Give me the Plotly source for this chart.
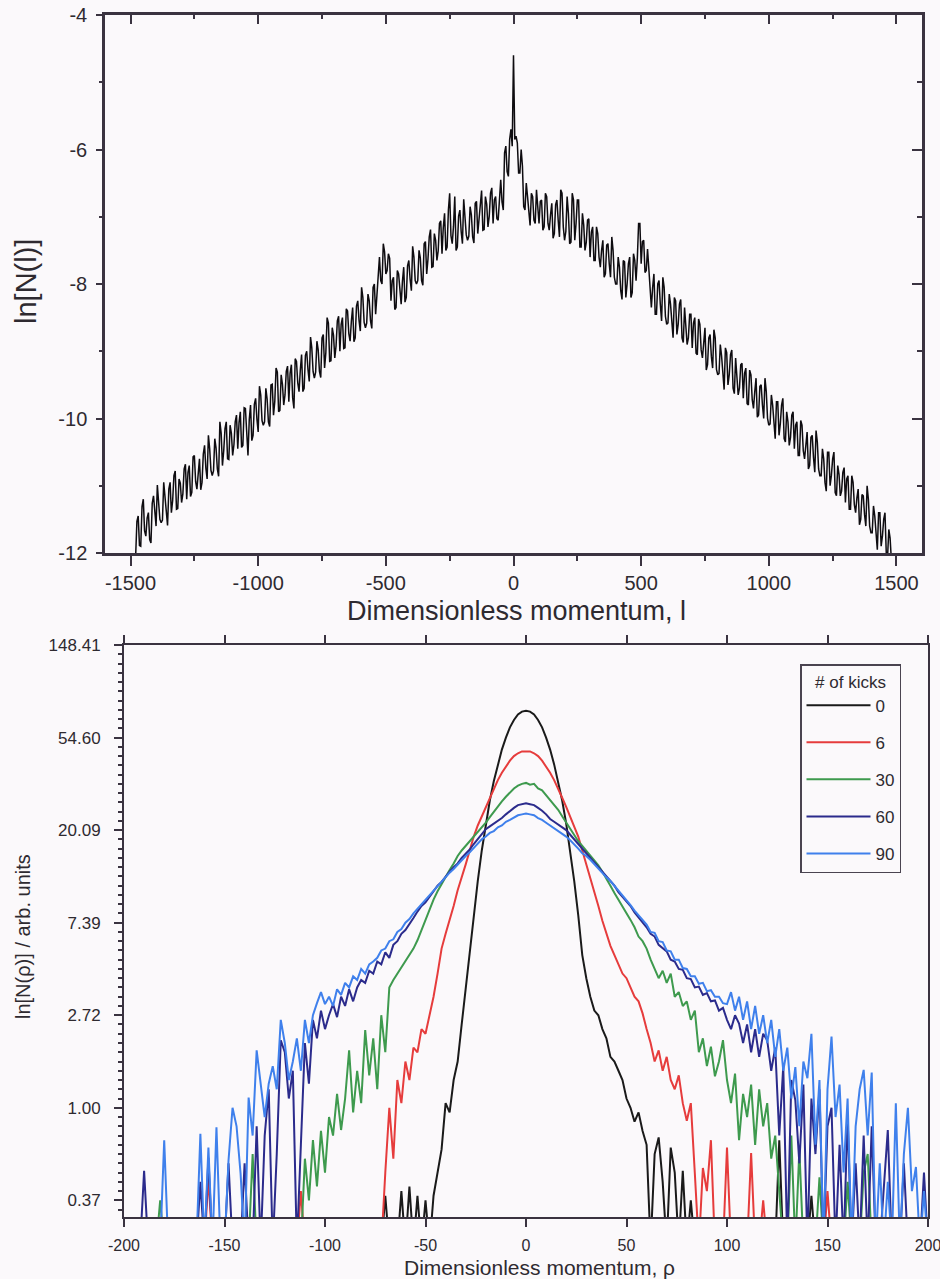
import plotly.graph_objects as go

# ---------------- top panel data: ln[N(l)] vs l (step 5) ----------------
top_l = list(range(-1480, 1481, 5))
# values at l = -1480, -1470, ..., -10
top_left = [
    -12.05, -11.45, -11.90, -11.20, -11.75, -11.40, -11.85, -11.15, -11.60, -11.20,
    -11.55, -10.95, -11.45, -11.05, -11.40, -10.85, -11.35, -10.90, -11.25, -10.75,
    -11.20, -10.70, -11.10, -10.55, -11.05, -10.60, -10.95, -10.40, -10.90, -10.45,
    -10.85, -10.30, -10.75, -10.05, -10.70, -10.15, -10.60, -10.10, -10.55, -10.05,
    -10.45, -9.90, -10.40, -9.85, -10.55, -9.80, -10.25, -9.70, -10.20, -9.65,
    -10.10, -9.55, -10.05, -9.50, -9.95, -9.25, -9.90, -9.35, -9.80, -9.30,
    -9.75, -9.20, -9.85, -9.15, -9.60, -9.05, -9.55, -9.00, -9.45, -8.95,
    -9.40, -8.85, -9.30, -8.80, -9.25, -8.50, -9.15, -8.65, -9.10, -8.55,
    -9.00, -8.50, -8.95, -8.40, -8.85, -8.35, -8.80, -8.25, -8.70, -8.20,
    -8.65, -8.15, -8.55, -8.05, -8.45, -7.80, -7.95, -7.40, -7.85, -7.55,
    -8.25, -7.90, -8.35, -7.85, -8.30, -7.75, -8.20, -7.65, -8.10, -7.60,
    -8.00, -7.50, -7.95, -7.40, -7.85, -7.30, -7.75, -7.25, -7.65, -7.10,
    -7.55, -6.95, -7.45, -6.65, -7.40, -6.70, -7.45, -6.90, -7.40, -6.95,
    -7.35, -6.85, -7.30, -6.80, -7.25, -6.75, -7.20, -6.70, -7.15, -6.65,
    -7.10, -6.70, -7.05, -6.45, -6.90, -5.95, -6.40, -5.70,
]
# values at l = -1475, -1465, ..., -5
top_mid_left = [
    -11.53, -11.89, -11.31, -11.67, -11.48, -11.80, -11.26, -11.47, -10.99, -11.50,
    -11.51, -11.18, -11.59, -10.95, -11.22, -10.78, -11.34, -10.96, -11.12, -10.68,
    -10.80, -11.16, -10.57, -10.94, -10.75, -11.06, -10.53, -10.74, -10.25, -10.77,
    -10.78, -10.44, -10.86, -10.22, -10.48, -10.05, -10.61, -10.22, -10.39, -9.95,
    -10.06, -10.43, -9.84, -10.20, -10.02, -10.33, -9.79, -10.01, -9.52, -10.03,
    -10.05, -9.71, -10.12, -9.49, -9.75, -9.31, -9.88, -9.49, -9.65, -9.22,
    -9.33, -9.69, -9.11, -9.47, -9.28, -9.60, -9.06, -9.27, -8.79, -9.30,
    -9.31, -8.98, -9.39, -8.75, -9.02, -8.58, -9.14, -8.76, -8.92, -8.48,
    -8.60, -8.96, -8.37, -8.74, -8.55, -8.86, -8.33, -8.54, -8.05, -8.57,
    -8.58, -8.25, -8.66, -8.00, -8.17, -7.60, -8.00, -7.52, -7.80, -7.62,
    -7.95, -8.38, -7.80, -8.16, -7.96, -8.27, -7.73, -7.93, -7.44, -7.95,
    -7.95, -7.61, -8.02, -7.37, -7.63, -7.19, -7.74, -7.35, -7.51, -7.06,
    -7.16, -7.50, -6.90, -7.28, -7.14, -7.50, -6.99, -7.22, -6.74, -7.27,
    -7.29, -6.97, -7.39, -6.77, -7.04, -6.61, -7.19, -6.81, -6.99, -6.57,
    -6.75, -7.03, -6.63, -6.78, -6.05, -6.33, -5.85, -5.95,
]
top_center = [-4.60]  # l = 0
# values at l = 5, 15, ..., 1475
top_mid_right = [
    -5.85, -5.90, -6.35, -6.25, -6.90, -6.70, -7.13, -6.70, -7.10, -6.82,
    -6.77, -7.20, -6.65, -7.10, -6.97, -7.32, -6.82, -7.05, -6.60, -7.15,
    -7.22, -6.95, -7.38, -6.75, -7.10, -6.75, -7.45, -7.12, -7.38, -7.03,
    -7.23, -7.65, -7.15, -7.60, -7.50, -7.90, -7.42, -7.70, -7.30, -7.90,
    -8.00, -7.75, -8.23, -7.67, -8.00, -7.60, -8.13, -7.65, -7.62, -7.10,
    -7.37, -7.83, -7.48, -8.15, -8.05, -8.45, -8.00, -8.30, -7.90, -8.48,
    -8.58, -8.30, -8.80, -8.25, -8.60, -8.23, -8.87, -8.57, -8.80, -8.45,
    -8.58, -9.03, -8.52, -8.98, -8.88, -9.28, -8.80, -9.08, -8.68, -9.27,
    -9.33, -9.07, -9.57, -9.02, -9.35, -8.98, -9.63, -9.33, -9.55, -9.18,
    -9.33, -9.78, -9.28, -9.72, -9.60, -9.98, -9.52, -9.80, -9.40, -10.00,
    -10.08, -9.80, -10.30, -9.75, -10.08, -9.70, -10.35, -10.05, -10.28, -9.90,
    -10.10, -10.55, -10.03, -10.48, -10.35, -10.75, -10.28, -10.58, -10.18, -10.75,
    -10.85, -10.60, -11.08, -10.50, -10.85, -10.50, -11.15, -10.83, -11.08, -10.73,
    -10.90, -11.35, -10.85, -11.28, -11.18, -11.58, -11.13, -11.43, -11.00, -11.60,
    -11.70, -11.45, -11.95, -11.40, -11.75, -11.40, -12.07, -11.78,
]
# values at l = 10, 20, ..., 1480
top_right = [
    -5.80, -6.35, -6.00, -6.85, -6.50, -7.00, -6.65, -7.05, -6.60, -7.10,
    -6.75, -7.15, -6.70, -7.20, -6.80, -7.25, -6.75, -7.30, -6.65, -7.35,
    -6.70, -7.40, -6.65, -7.35, -6.75, -7.45, -6.95, -7.50, -7.05, -7.60,
    -7.15, -7.65, -7.25, -7.75, -7.35, -7.85, -7.40, -7.90, -7.50, -8.00,
    -7.60, -8.10, -7.65, -8.20, -7.70, -8.20, -7.55, -7.95, -7.10, -7.70,
    -7.35, -7.80, -7.75, -8.35, -7.85, -8.45, -7.95, -8.55, -8.05, -8.60,
    -8.15, -8.65, -8.20, -8.75, -8.30, -8.80, -8.35, -8.90, -8.45, -8.95,
    -8.50, -9.05, -8.60, -9.10, -8.65, -9.20, -8.75, -9.25, -8.80, -9.35,
    -8.90, -9.40, -8.95, -9.50, -9.05, -9.55, -9.10, -9.65, -9.20, -9.70,
    -9.25, -9.80, -9.35, -9.85, -9.40, -9.95, -9.50, -10.00, -9.60, -10.10,
    -9.65, -10.15, -9.75, -10.25, -9.80, -10.30, -9.90, -10.40, -9.95, -10.45,
    -10.05, -10.55, -10.10, -10.60, -10.20, -10.70, -10.25, -10.80, -10.35, -10.85,
    -10.45, -10.95, -10.50, -11.00, -10.60, -11.10, -10.70, -11.15, -10.80, -11.25,
    -10.85, -11.35, -10.95, -11.40, -11.05, -11.50, -11.15, -11.60, -11.20, -11.70,
    -11.30, -11.80, -11.40, -11.90, -11.50, -12.00, -11.65, -12.10,
]
top_y = []
for a, b in zip(top_left, top_mid_left):
    top_y += [a, b]
top_y += top_center
for b, a in zip(top_mid_right, top_right):
    top_y += [b, a]

top_xtick_vals = [-1500, -1000, -500, 0, 500, 1000, 1500]
top_xtick_text = ["-1500", "-1000", "-500", "0", "500", "1000", "1500"]
top_ytick_vals = [-12, -10, -8, -6, -4]
top_ytick_text = ["-12", "-10", "-8", "-6", "-4"]

# ---------------- bottom panel data: ln[N(rho)] vs rho (step 2) ----------------
F = -1.5  # empty bins (below the axis floor)
rho = list(range(-200, 201, 2))

kicks_0 = [
    F, F, F, F, F, F, F, F, F, F,
    F, F, F, F, F, F, F, F, F, F,
    F, F, F, F, F, F, F, F, F, F,
    F, F, F, F, F, F, F, F, F, F,
    F, F, F, F, F, F, F, F, F, F,
    F, F, F, F, F, F, F, F, F, F,
    F, F, F, F, F, -0.95, F, F, F, -0.90,
    F, -0.85, F, -0.95, F, -1.00, F, -0.95, -0.70, -0.45,
    0.05, -0.05, 0.30, 0.50, 0.90, 1.30, 1.65, 2.08, 2.45, 2.78,
    3.07, 3.32, 3.53, 3.71, 3.87, 4.00, 4.11, 4.19, 4.25, 4.28,
    4.29, 4.28, 4.25, 4.19, 4.11, 4.00, 3.87, 3.71, 3.53, 3.32,
    3.07, 2.78, 2.45, 2.08, 1.65, 1.40, 1.20, 1.05, 1.00, 0.85,
    0.75, 0.55, 0.50, 0.40, 0.30, 0.10, 0.00, -0.15, -0.05, -0.25,
    -0.40, F, -0.50, -0.32, -0.80, F, -0.43, -0.70, F, -0.68,
    F, -1.00, F, F, F, F, F, F, F, F,
    F, F, F, F, F, F, F, F, F, F,
    F, F, F, -0.35, F, F, F, F, F, F,
    F, -0.95, F, F, F, F, F, F, F, F,
    F, F, F, F, F, F, F, F, F, F,
    F, F, F, F, F, F, F, F, F, F,
    F,
]

kicks_6 = [
    F, F, F, F, F, F, F, F, F, F,
    F, F, F, F, F, F, F, F, F, F,
    F, -0.75, F, F, F, F, F, F, F, F,
    F, F, F, F, F, F, F, F, F, F,
    F, F, F, F, -0.90, F, F, F, F, F,
    F, F, F, F, F, F, F, F, F, F,
    F, F, F, F, F, -0.70, 0.00, -0.55, 0.30, 0.05,
    0.50, 0.30, 0.65, 0.60, 0.85, 0.80, 1.00, 1.20, 1.45, 1.72,
    1.88, 2.02, 2.18, 2.35, 2.48, 2.63, 2.78, 2.93, 3.05, 3.15,
    3.25, 3.35, 3.45, 3.54, 3.62, 3.69, 3.75, 3.80, 3.83, 3.85,
    3.85, 3.85, 3.83, 3.80, 3.75, 3.69, 3.62, 3.54, 3.45, 3.35,
    3.25, 3.15, 3.05, 2.93, 2.78, 2.63, 2.48, 2.35, 2.18, 2.02,
    1.88, 1.75, 1.65, 1.55, 1.45, 1.40, 1.30, 1.20, 1.15, 1.02,
    0.85, 0.70, 0.50, 0.62, 0.40, 0.55, 0.30, 0.20, 0.35, 0.05,
    -0.14, 0.05, -0.71, F, -0.65, -0.90, -0.35, F, F, F,
    -0.43, F, F, F, F, F, -0.49, F, F, -1.00,
    F, F, F, F, F, F, F, F, F, F,
    F, F, F, F, F, -0.90, F, F, F, F,
    F, F, F, F, F, F, F, F, F, F,
    F, F, F, F, F, F, F, F, F, F,
    F,
]

kicks_30 = [
    F, F, F, F, F, F, F, F, F, -1.00,
    F, F, F, F, F, F, F, F, F, F,
    F, F, F, F, F, F, F, F, F, F,
    F, F, -0.50, F, F, F, F, F, F, F,
    F, F, F, F, F, -0.55, -1.00, -0.35, -0.85, -0.25,
    -0.70, -0.10, -0.30, 0.15, -0.24, 0.10, 0.62, -0.05, 0.40, 0.05,
    0.84, 0.35, 0.75, 0.20, 1.00, 0.60, 1.30, 1.38, 1.45, 1.52,
    1.58, 1.65, 1.72, 1.81, 1.92, 2.04, 2.15, 2.25, 2.34, 2.42,
    2.50, 2.57, 2.64, 2.72, 2.78, 2.83, 2.88, 2.93, 2.97, 3.02,
    3.08, 3.14, 3.20, 3.26, 3.31, 3.36, 3.41, 3.45, 3.48, 3.50,
    3.51, 3.49, 3.50, 3.45, 3.43, 3.38, 3.33, 3.28, 3.22, 3.15,
    3.08, 3.01, 2.95, 2.88, 2.83, 2.78, 2.73, 2.68, 2.62, 2.55,
    2.48, 2.40, 2.32, 2.25, 2.18, 2.10, 2.03, 1.95, 1.85, 1.80,
    1.72, 1.60, 1.50, 1.40, 1.48, 1.35, 1.45, 1.20, 1.25, 1.10,
    1.15, 0.95, 1.05, 0.60, 0.75, 0.45, 0.66, 0.34, 0.50, 0.73,
    0.30, 0.05, 0.37, -0.35, 0.15, -0.10, 0.25, -0.40, 0.20, -0.20,
    0.05, -0.55, -0.30, -0.90, F, F, -0.30, F, -0.45, F,
    F, F, F, -0.75, F, F, F, F, F, F,
    -0.80, F, F, F, -0.70, -0.50, F, F, F, F,
    F, F, F, F, F, F, F, F, F, F,
    F,
]

kicks_60 = [
    F, F, F, F, F, -0.68, F, F, F, F,
    F, F, F, F, F, F, F, F, F, -0.80,
    F, -0.54, F, F, F, F, -0.60, F, F, F,
    -0.60, F, F, -0.20, F, -0.30, 0.20, F, -0.50, 0.73,
    0.60, 0.10, 0.40, F, -0.40, 0.70, 0.26, 0.95, 0.75, 1.05,
    0.85, 1.00, 1.12, 0.98, 1.20, 1.10, 1.28, 1.15, 1.30, 1.38,
    1.35, 1.48, 1.45, 1.58, 1.55, 1.68, 1.62, 1.76, 1.80, 1.88,
    1.92, 1.98, 2.05, 2.12, 2.18, 2.22, 2.28, 2.34, 2.40, 2.44,
    2.50, 2.55, 2.60, 2.64, 2.70, 2.74, 2.79, 2.85, 2.90, 2.96,
    3.01, 3.04, 3.07, 3.10, 3.13, 3.17, 3.21, 3.24, 3.27, 3.28,
    3.29, 3.28, 3.27, 3.24, 3.21, 3.17, 3.12, 3.09, 3.06, 3.03,
    3.00, 2.95, 2.90, 2.84, 2.79, 2.75, 2.70, 2.65, 2.60, 2.55,
    2.50, 2.45, 2.40, 2.33, 2.28, 2.23, 2.18, 2.11, 2.06, 2.00,
    1.95, 1.88, 1.85, 1.76, 1.72, 1.69, 1.60, 1.58, 1.50, 1.49,
    1.40, 1.39, 1.30, 1.31, 1.22, 1.24, 1.15, 1.16, 1.05, 1.08,
    0.95, 0.85, 1.00, 0.91, 0.70, 0.90, 0.60, 0.85, 0.55, 0.80,
    0.73, 0.40, 0.65, -0.30, 0.45, F, 0.30, 0.08, -0.60, 0.25,
    F, 0.10, -0.50, 0.20, F, -0.20, 0.00, F, -0.40, F,
    -0.10, F, -0.60, F, -0.30, F, -0.20, F, F, -0.90,
    -0.24, F, F, F, -0.60, F, F, F, F, -0.70,
    F,
]

kicks_90 = [
    F, F, F, F, F, F, F, F, F, F,
    -0.35, F, F, F, F, F, F, F, F, -0.28,
    F, -0.43, F, -0.21, F, F, -0.57, 0.00, -0.20, -0.71,
    F, 0.11, -0.30, 0.62, 0.26, -0.10, 0.26, 0.45, 0.20, 0.95,
    0.70, 0.30, 0.50, 0.75, 0.40, 0.95, 0.70, 1.00, 1.13, 1.25,
    1.12, 1.20, 1.10, 1.28, 1.22, 1.35, 1.30, 1.42, 1.38, 1.50,
    1.45, 1.55, 1.58, 1.62, 1.70, 1.72, 1.80, 1.82, 1.90, 1.93,
    2.00, 2.04, 2.10, 2.15, 2.20, 2.24, 2.30, 2.35, 2.40, 2.45,
    2.50, 2.54, 2.58, 2.63, 2.68, 2.72, 2.76, 2.81, 2.85, 2.90,
    2.93, 2.97, 2.99, 3.03, 3.05, 3.09, 3.11, 3.14, 3.16, 3.17,
    3.18, 3.17, 3.16, 3.13, 3.11, 3.08, 3.05, 3.02, 2.99, 2.96,
    2.93, 2.89, 2.85, 2.80, 2.75, 2.72, 2.68, 2.63, 2.58, 2.54,
    2.49, 2.45, 2.40, 2.34, 2.29, 2.24, 2.19, 2.13, 2.08, 2.03,
    1.98, 1.90, 1.89, 1.80, 1.79, 1.70, 1.69, 1.60, 1.60, 1.51,
    1.50, 1.42, 1.42, 1.34, 1.35, 1.26, 1.27, 1.20, 1.20, 1.13,
    1.12, 1.25, 1.05, 1.20, 0.95, 1.15, 0.85, 1.10, 0.80, 1.00,
    0.70, 0.95, 0.55, 0.85, 0.40, 0.65, 0.10, 0.44, -0.20, 0.50,
    0.32, 0.80, -0.40, 0.30, F, 0.20, 0.77, -0.10, 0.25, -0.70,
    0.10, F, -0.20, 0.20, 0.41, -0.30, 0.38, F, -0.60, F,
    -0.80, F, 0.05, F, -0.50, 0.00, -0.90, -0.64, F, -0.90,
    F,
]

series_names = ["0", "6", "30", "60", "90"]
series_values = [kicks_0, kicks_6, kicks_30, kicks_60, kicks_90]
series_colors = ["#1a1a1a", "#e63c3c", "#3e9a4e", "#2b2b8c", "#3f80ec"]

bot_xtick_vals = [-200, -150, -100, -50, 0, 50, 100, 150, 200]
bot_xtick_text = ["-200", "-150", "-100", "-50", "0", "50", "100", "150", "200"]
bot_ytick_vals = [-1, 0, 1, 2, 3, 4, 5]
bot_ytick_text = ["0.37", "1.00", "2.72", "7.39", "20.09", "54.60", "148.41"]

# ---------------- figure ----------------
W, H = 940, 1279
AX = "#3a3340"
TXT = "#2e2a30"
FONT = "Liberation Sans, Arial, sans-serif"
BG = "#fbf9fb"

fig = go.Figure()
fig.add_trace(go.Scatter(x=top_l, y=top_y, mode="lines",
                         line=dict(color="#0e0c10", width=1.5),
                         showlegend=False, xaxis="x", yaxis="y",
                         hoverinfo="skip"))
# invisible helper so the mirrored (inside-tick) frame axes of the top panel render
fig.add_trace(go.Scatter(x=[0], y=[-8], mode="markers", marker=dict(opacity=0),
                         showlegend=False, xaxis="x3", yaxis="y3",
                         hoverinfo="skip"))
for name, vals, col in zip(series_names, series_values, series_colors):
    fig.add_trace(go.Scatter(x=rho, y=vals, mode="lines", name=name,
                             legendgroup=name,
                             line=dict(color=col, width=2),
                             xaxis="x2", yaxis="y2"))


def px_x(p):
    return p / W


def px_y(p):
    return 1 - p / H


common = dict(automargin=False, showgrid=False, zeroline=False)

fig.update_layout(
    template="none",
    width=W, height=H,
    margin=dict(l=0, r=0, t=0, b=0, pad=0, autoexpand=False),
    paper_bgcolor=BG, plot_bgcolor=BG,
    font=dict(family=FONT, color=TXT),
    xaxis=dict(domain=[px_x(105), px_x(922)], anchor="y", range=[-1600, 1600],
               tickvals=top_xtick_vals, ticktext=top_xtick_text,
               ticks="outside", ticklen=10, tickwidth=2, tickcolor=AX,
               showline=True, linecolor=AX, linewidth=2.5, mirror=True,
               tickfont=dict(size=20, color=TXT), ticklabeloverflow="allow",
               minor=dict(ticks="outside", tick0=0, dtick=250, ticklen=5,
                          tickwidth=2, tickcolor=AX, showgrid=False),
               **common),
    yaxis=dict(domain=[px_y(553), px_y(15)], anchor="x", range=[-12, -4],
               tickvals=top_ytick_vals, ticktext=top_ytick_text,
               ticks="outside", ticklen=6, tickwidth=2, tickcolor=AX,
               showline=True, linecolor=AX, linewidth=2.5, mirror=True,
               tickfont=dict(size=20, color=TXT), ticklabeloverflow="allow",
               ticklabelstandoff=5,
               minor=dict(ticks="outside", tick0=0, dtick=1, ticklen=3,
                          tickwidth=2, tickcolor=AX, showgrid=False),
               **common),
    xaxis3=dict(overlaying="x", side="top", anchor="y3", range=[-1600, 1600],
                tickvals=top_xtick_vals, ticks="inside", ticklen=9, tickwidth=2,
                tickcolor=AX, showticklabels=False, showline=False,
                minor=dict(ticks="inside", tick0=0, dtick=250, ticklen=4,
                           tickwidth=2, tickcolor=AX, showgrid=False),
                **common),
    yaxis3=dict(overlaying="y", side="right", anchor="x3", range=[-12, -4],
                tickvals=top_ytick_vals, ticks="inside", ticklen=10, tickwidth=2,
                tickcolor=AX, showticklabels=False, showline=False,
                minor=dict(ticks="inside", tick0=0, dtick=1, ticklen=5,
                           tickwidth=2, tickcolor=AX, showgrid=False),
                **common),
    xaxis2=dict(domain=[px_x(124), px_x(928)], anchor="y2", range=[-200, 200],
                tickvals=bot_xtick_vals, ticktext=bot_xtick_text,
                ticks="outside", ticklen=8, tickwidth=2, tickcolor=AX,
                showline=True, linecolor=AX, linewidth=2, mirror="ticks",
                tickfont=dict(size=16, color=TXT), ticklabeloverflow="allow",
                ticklabelstandoff=5,
                **common),
    yaxis2=dict(domain=[px_y(1217), px_y(645)], anchor="x2", range=[-1.18, 5.0],
                tickvals=bot_ytick_vals, ticktext=bot_ytick_text,
                ticks="outside", ticklen=8, tickwidth=2, tickcolor=AX,
                showline=True, linecolor=AX, linewidth=2, mirror=True,
                tickfont=dict(size=17, color=TXT), ticklabeloverflow="allow",
                ticklabelstandoff=10,
                minor=dict(ticks="outside", tick0=0, dtick=0.1, ticklen=4,
                           tickwidth=1.5, tickcolor=AX, showgrid=False),
                **common),
    legend=dict(x=px_x(800), y=px_y(664), xanchor="left", yanchor="top",
                bgcolor="rgba(0,0,0,0)", bordercolor="#4a4450", borderwidth=1.5,
                font=dict(size=17, color=TXT, family=FONT),
                title=dict(text="# of kicks", side="top center",
                           font=dict(size=17, color=TXT)),
                tracegroupgap=12, itemwidth=64, entrywidth=42,
                entrywidthmode="pixels"),
    showlegend=True,
    hovermode=False,
)

annots = [
    dict(text="Dimensionless momentum, l", x=px_x(516), y=px_y(611),
         font=dict(size=27, color=TXT)),
    dict(text="ln[N(l)]", x=px_x(26), y=px_y(282), textangle=-90,
         font=dict(size=29, color=TXT)),
    dict(text="Dimensionless momentum, \u03c1", x=px_x(539), y=px_y(1267),
         font=dict(size=21, color=TXT)),
    dict(text="ln[N(\u03c1)] / arb. units", x=px_x(23), y=px_y(937),
         textangle=-90, font=dict(size=20, color=TXT)),
]
for a in annots:
    fig.add_annotation(xref="paper", yref="paper", showarrow=False,
                       xanchor="center", yanchor="middle", **a)

fig.write_html("out.html")
